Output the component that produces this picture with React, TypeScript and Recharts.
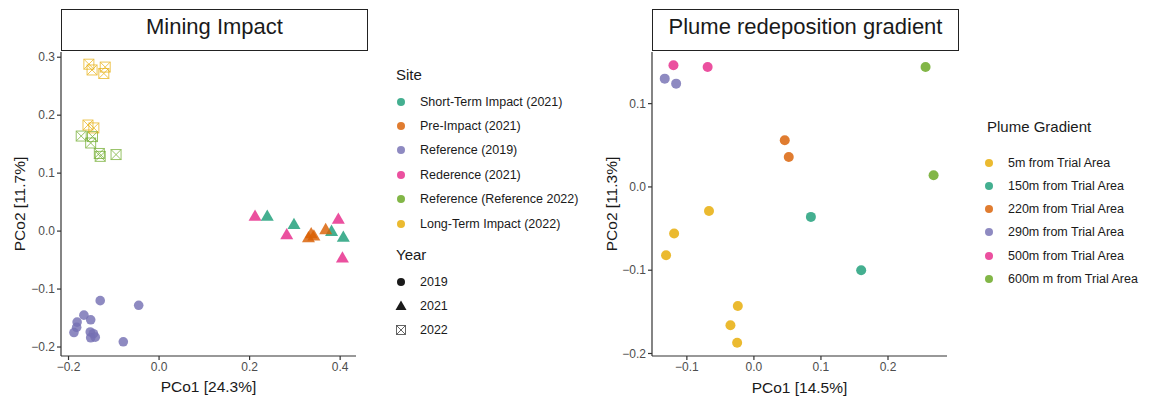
import { ScatterChart, Scatter, XAxis, YAxis } from "recharts";

const FONT = '"Liberation Sans", Arial, Helvetica, sans-serif';

// Dark2 palette
const TEAL = "#1B9E77";
const ORANGE = "#D95F02";
const PURPLE = "#7570B3";
const PINK = "#E7298A";
const GREEN = "#66A61E";
const YELLOW = "#E6AB02";

// --- Mining Impact (PCo1 / PCo2) ---
const shortTermImpact2021 = [
  { x: 0.239, y: 0.026 },
  { x: 0.298, y: 0.012 },
  { x: 0.381, y: 0.0 },
  { x: 0.407, y: -0.01 },
];
const preImpact2021 = [
  { x: 0.33, y: -0.011 },
  { x: 0.336, y: -0.004 },
  { x: 0.342, y: -0.008 },
  { x: 0.368, y: 0.003 },
];
const reference2019 = [
  { x: -0.13, y: -0.12 },
  { x: -0.045, y: -0.128 },
  { x: -0.166, y: -0.145 },
  { x: -0.151, y: -0.153 },
  { x: -0.181, y: -0.157 },
  { x: -0.182, y: -0.166 },
  { x: -0.188, y: -0.175 },
  { x: -0.152, y: -0.174 },
  { x: -0.145, y: -0.177 },
  { x: -0.151, y: -0.184 },
  { x: -0.141, y: -0.183 },
  { x: -0.079, y: -0.191 },
];
const rederence2021 = [
  { x: 0.212, y: 0.026 },
  { x: 0.282, y: -0.006 },
  { x: 0.396, y: 0.021 },
  { x: 0.405, y: -0.046 },
];
const referenceReference2022 = [
  { x: -0.172, y: 0.164 },
  { x: -0.147, y: 0.163 },
  { x: -0.151, y: 0.152 },
  { x: -0.132, y: 0.134 },
  { x: -0.13, y: 0.129 },
  { x: -0.095, y: 0.132 },
];
const longTermImpact2022 = [
  { x: -0.155, y: 0.288 },
  { x: -0.148, y: 0.278 },
  { x: -0.119, y: 0.283 },
  { x: -0.122, y: 0.272 },
  { x: -0.157, y: 0.183 },
  { x: -0.144, y: 0.178 },
];

// --- Plume redeposition gradient ---
const plume5m = [
  { x: -0.067, y: -0.029 },
  { x: -0.119, y: -0.056 },
  { x: -0.131, y: -0.082 },
  { x: -0.024, y: -0.143 },
  { x: -0.035, y: -0.166 },
  { x: -0.025, y: -0.187 },
];
const plume150m = [
  { x: 0.085, y: -0.036 },
  { x: 0.16, y: -0.1 },
];
const plume220m = [
  { x: 0.046, y: 0.056 },
  { x: 0.052, y: 0.036 },
];
const plume290m = [
  { x: -0.133, y: 0.13 },
  { x: -0.116, y: 0.124 },
];
const plume500m = [
  { x: -0.12, y: 0.146 },
  { x: -0.069, y: 0.144 },
];
const plume600m = [
  { x: 0.256, y: 0.144 },
  { x: 0.268, y: 0.014 },
];

const leftXTicks = [-0.2, 0, 0.2, 0.4];
const leftYTicks = [-0.2, -0.1, 0, 0.1, 0.2, 0.3];
const rightXTicks = [-0.1, 0, 0.1, 0.2];
const rightYTicks = [-0.2, -0.1, 0, 0.1];

const siteLegend = [
  { label: "Short-Term Impact (2021)", color: TEAL },
  { label: "Pre-Impact (2021)", color: ORANGE },
  { label: "Reference (2019)", color: PURPLE },
  { label: "Rederence (2021)", color: PINK },
  { label: "Reference (Reference 2022)", color: GREEN },
  { label: "Long-Term Impact (2022)", color: YELLOW },
];
const yearLegend = ["2019", "2021", "2022"];
const plumeLegend = [
  { label: "5m from Trial Area", color: YELLOW },
  { label: "150m from Trial Area", color: TEAL },
  { label: "220m from Trial Area", color: ORANGE },
  { label: "290m from Trial Area", color: PURPLE },
  { label: "500m from Trial Area", color: PINK },
  { label: "600m m from Trial Area", color: GREEN },
];

const fmt = (v: number) => (v < 0 ? "\u2212" + Math.abs(v).toFixed(1) : v.toFixed(1));

const CircleShape = (r: number) => (p: any) =>
  <circle cx={p.cx} cy={p.cy} r={r} fill={p.fill} fillOpacity={0.82} />;

const TriangleShape = (p: any) => {
  const { cx, cy } = p;
  const pts = `${cx},${cy - 6.5} ${cx - 6.5},${cy + 4.8} ${cx + 6.5},${cy + 4.8}`;
  return <polygon points={pts} fill={p.fill} fillOpacity={0.82} />;
};

const CrossSquareShape = (p: any) => {
  const { cx, cy } = p;
  const h = 5;
  return (
    <g stroke={p.fill} strokeWidth={0.9} fill="none" opacity={0.75}>
      <rect x={cx - h} y={cy - h} width={h * 2} height={h * 2} />
      <line x1={cx - h} y1={cy - h} x2={cx + h} y2={cy + h} />
      <line x1={cx - h} y1={cy + h} x2={cx + h} y2={cy - h} />
    </g>
  );
};

const axisStyle = {
  stroke: "#333",
  strokeWidth: 1.2,
  tickSize: 4,
  tick: { fill: "#4d4d4d", fontSize: 12, fontFamily: FONT },
};

const axisTitle = { fontSize: 15.5, fontFamily: FONT, fill: "#1a1a1a" };

function TitleBox({ left, width, text }: { left: number; width: number; text: string }) {
  return (
    <div
      style={{
        position: "absolute",
        left,
        top: 9,
        width,
        height: 42,
        border: "1.2px solid #222",
        boxSizing: "border-box",
        textAlign: "center",
        fontFamily: FONT,
        fontSize: 22,
        lineHeight: "34px",
        color: "#1a1a1a",
      }}
    >
      {text}
    </div>
  );
}

function LegendTitle({ left, top, text }: { left: number; top: number; text: string }) {
  return (
    <div style={{ position: "absolute", left, top, fontFamily: FONT, fontSize: 15, lineHeight: "18px", color: "#1a1a1a" }}>
      {text}
    </div>
  );
}

function LegendRow({ top, left, label, children }: { top: number; left: number; label: string; children: any }) {
  return (
    <div style={{ position: "absolute", top: top - 8, left, height: 16, display: "flex", alignItems: "center" }}>
      <svg width={12} height={12} style={{ marginRight: 13 }}>{children}</svg>
      <span style={{ fontFamily: FONT, fontSize: 12.5, color: "#1a1a1a" }}>{label}</span>
    </div>
  );
}

export default function App() {
  return (
    <div style={{ position: "absolute", left: 0, top: 0, width: 1151, height: 396, background: "#fff" }}>
      <TitleBox left={61} width={307} text="Mining Impact" />
      <div style={{ position: "absolute", left: 0, top: 0 }}>
        <ScatterChart width={370} height={396} margin={{ top: 52, right: 14, bottom: 0, left: 0 }}>
          <XAxis
            type="number"
            dataKey="x"
            domain={[-0.2166, 0.435]}
            ticks={leftXTicks}
            tickFormatter={fmt}
            allowDataOverflow
            height={40}
            {...axisStyle}
            label={{ value: "PCo1 [24.3%]", position: "insideBottom", offset: 4, ...axisTitle }}
          />
          <YAxis
            type="number"
            dataKey="y"
            domain={[-0.2155, 0.309]}
            ticks={leftYTicks}
            tickFormatter={fmt}
            allowDataOverflow
            width={61}
            {...axisStyle}
            label={{ value: "PCo2 [11.7%]", angle: -90, position: "insideLeft", offset: 19, ...axisTitle, style: { textAnchor: "middle" } }}
          />
          <Scatter data={reference2019} fill={PURPLE} shape={CircleShape(4.8)} isAnimationActive={false} />
          <Scatter data={referenceReference2022} fill={GREEN} shape={CrossSquareShape} isAnimationActive={false} />
          <Scatter data={longTermImpact2022} fill={YELLOW} shape={CrossSquareShape} isAnimationActive={false} />
          <Scatter data={rederence2021} fill={PINK} shape={TriangleShape} isAnimationActive={false} />
          <Scatter data={shortTermImpact2021} fill={TEAL} shape={TriangleShape} isAnimationActive={false} />
          <Scatter data={preImpact2021} fill={ORANGE} shape={TriangleShape} isAnimationActive={false} />
        </ScatterChart>
      </div>

      {/* Site / Year legends */}
      <LegendTitle left={396} top={66} text="Site" />
      {siteLegend.map((s, i) => (
        <LegendRow key={s.label} top={101.5 + i * 24.4} left={395} label={s.label}>
          <circle cx={6} cy={6} r={4} fill={s.color} fillOpacity={0.82} />
        </LegendRow>
      ))}
      <LegendTitle left={396} top={246} text="Year" />
      {yearLegend.map((y, i) => (
        <LegendRow key={y} top={281.5 + i * 24.3} left={395} label={y}>
          {i === 0 && <circle cx={6} cy={6} r={4} fill="#1a1a1a" />}
          {i === 1 && <polygon points="6,0.5 0.5,10 11.5,10" fill="#1a1a1a" />}
          {i === 2 && (
            <g stroke="#555" strokeWidth={0.9} fill="none">
              <rect x={1.5} y={1.5} width={9} height={9} />
              <line x1={1.5} y1={1.5} x2={10.5} y2={10.5} />
              <line x1={1.5} y1={10.5} x2={10.5} y2={1.5} />
            </g>
          )}
        </LegendRow>
      ))}

      <TitleBox left={652} width={307} text="Plume redeposition gradient" />
      <div style={{ position: "absolute", left: 580, top: 0 }}>
        <ScatterChart width={390} height={396} margin={{ top: 52, right: 23, bottom: 0, left: 0 }}>
          <XAxis
            type="number"
            dataKey="x"
            domain={[-0.152, 0.288]}
            ticks={rightXTicks}
            tickFormatter={fmt}
            allowDataOverflow
            height={40}
            {...axisStyle}
            label={{ value: "PCo1 [14.5%]", position: "insideBottom", offset: 3, ...axisTitle }}
          />
          <YAxis
            type="number"
            dataKey="y"
            domain={[-0.203, 0.162]}
            ticks={rightYTicks}
            tickFormatter={fmt}
            allowDataOverflow
            width={72}
            {...axisStyle}
            label={{ value: "PCo2 [11.3%]", angle: -90, position: "insideLeft", offset: 31, ...axisTitle, style: { textAnchor: "middle" } }}
          />
          <Scatter data={plume5m} fill={YELLOW} shape={CircleShape(5)} isAnimationActive={false} />
          <Scatter data={plume150m} fill={TEAL} shape={CircleShape(5)} isAnimationActive={false} />
          <Scatter data={plume220m} fill={ORANGE} shape={CircleShape(5)} isAnimationActive={false} />
          <Scatter data={plume290m} fill={PURPLE} shape={CircleShape(5)} isAnimationActive={false} />
          <Scatter data={plume500m} fill={PINK} shape={CircleShape(5)} isAnimationActive={false} />
          <Scatter data={plume600m} fill={GREEN} shape={CircleShape(5)} isAnimationActive={false} />
        </ScatterChart>
      </div>

      <LegendTitle left={987} top={118} text="Plume Gradient" />
      {plumeLegend.map((s, i) => (
        <LegendRow key={s.label} top={162.5 + i * 23.3} left={983} label={s.label}>
          <circle cx={6} cy={6} r={4} fill={s.color} fillOpacity={0.82} />
        </LegendRow>
      ))}
    </div>
  );
}
